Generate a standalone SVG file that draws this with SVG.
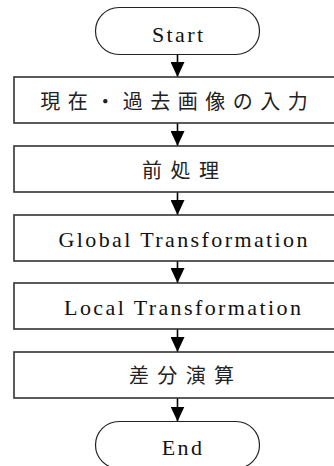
<svg xmlns="http://www.w3.org/2000/svg" width="334" height="466" viewBox="0 0 334 466">
<style>
.term{fill:#fff;stroke:#222;stroke-width:1.2}
.box{fill:#fff;stroke:#333;stroke-width:1.6}
.lat{font-family:"Liberation Serif","Times New Roman",serif;font-size:22px;fill:#111;text-anchor:middle;letter-spacing:2.4px}
.cjk{font-family:"Noto Sans CJK JP","Noto Sans CJK SC",sans-serif;font-size:20px;fill:#222;text-anchor:middle}
.conn{stroke:#000;stroke-width:1.6;fill:none;marker-end:url(#ah)}
</style>
<defs>
<marker id="ah" markerUnits="userSpaceOnUse" markerWidth="15" markerHeight="14" viewBox="0 0 15 14" refX="15" refY="7" orient="auto">
<path d="M0,0 L15,7 L0,14 Z" fill="#000"/>
</marker>
</defs>
<g id="connectors">
<line class="conn" x1="177.5" y1="54.5" x2="177.5" y2="77"/>
<line class="conn" x1="177.5" y1="123" x2="177.5" y2="146"/>
<line class="conn" x1="177.5" y1="192" x2="177.5" y2="215"/>
<line class="conn" x1="177.5" y1="261" x2="177.5" y2="283"/>
<line class="conn" x1="177.5" y1="329" x2="177.5" y2="352"/>
<line class="conn" x1="177.5" y1="398" x2="177.5" y2="421.5"/>
</g>
<g id="start">
<rect class="term" x="95.5" y="7.5" width="164" height="47" rx="23.5" ry="23.5"/>
<text class="lat" x="178.7" y="41.5">Start</text>
</g>
<g id="input">
<rect class="box" x="14" y="77" width="327" height="46"/>
<text class="cjk" x="177.8" y="109" style="letter-spacing:7.5px">現在・過去画像の入力</text>
</g>
<g id="preprocess">
<rect class="box" x="14" y="146" width="327" height="46"/>
<text class="cjk" x="184.7" y="177.5" style="letter-spacing:8.4px">前処理</text>
</g>
<g id="global">
<rect class="box" x="14" y="215" width="327" height="46"/>
<text class="lat" x="184.2" y="247">Global Transformation</text>
</g>
<g id="local">
<rect class="box" x="14" y="283" width="327" height="46"/>
<text class="lat" x="183.7" y="315">Local Transformation</text>
</g>
<g id="diff">
<rect class="box" x="14" y="352" width="327" height="46"/>
<text class="cjk" x="185.7" y="383" style="letter-spacing:8.4px">差分演算</text>
</g>
<g id="end">
<rect class="term" x="95.5" y="421.5" width="164" height="47" rx="23.5" ry="23.5"/>
<text class="lat" x="183" y="455">End</text>
</g>
</svg>
